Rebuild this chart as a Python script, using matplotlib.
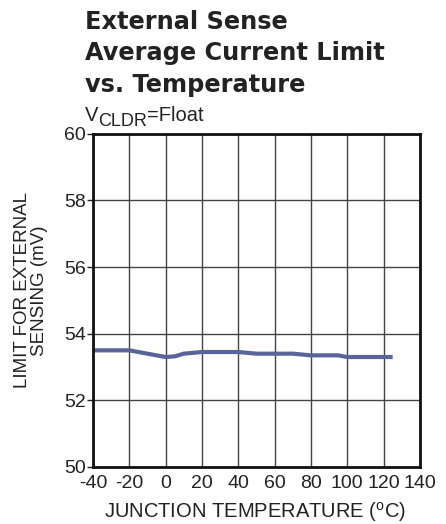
import matplotlib.pyplot as plt

plt.rcParams['font.family'] = ['Liberation Sans', 'DejaVu Sans']
plt.rcParams['axes.unicode_minus'] = False

# данные
temp = [-40, -20, -10, 0, 5, 10, 20, 40, 50, 70, 80, 95, 100, 125]
limit_mv = [53.5, 53.5, 53.4, 53.3, 53.32, 53.4, 53.45, 53.45, 53.4, 53.4, 53.35, 53.35, 53.3, 53.3]

x_ticks = list(range(-40, 141, 20))
y_ticks = list(range(50, 61, 2))

txt = '#222222'

fig = plt.figure(figsize=(4.46, 5.24), dpi=100)
ax = fig.add_axes([0.2085, 0.1088, 0.733, 0.636])

ax.plot(temp, limit_mv, color='#5b6499', lw=3, solid_capstyle='butt')

ax.set_xlim(-40, 140)
ax.set_ylim(50, 60)
ax.set_xticks(x_ticks)
ax.set_yticks(y_ticks)
ax.grid(True, color='#444444', lw=1)
ax.tick_params(labelsize=14, length=4, width=1, direction='out', pad=1, colors=txt)
ax.tick_params(axis='x', length=0, pad=6)
for s in ax.spines.values():
    s.set_linewidth(2)
    s.set_color('#111111')

ax.set_xlabel('JUNCTION TEMPERATURE ($^{\\mathregular{o}}$C)', fontsize=14.5, color=txt, va='baseline')
ax.xaxis.set_label_coords(0.495, -0.153)
ax.set_ylabel('LIMIT FOR EXTERNAL\nSENSING (mV)', fontsize=13.5, color=txt, linespacing=1.05, va='center')
ax.yaxis.set_label_coords(-0.19, 0.53)

# заголовок
x0 = 85 / 446
for s, base in [('External Sense', 29), ('Average Current Limit', 60), ('vs. Temperature', 92)]:
    fig.text(x0, 1 - base / 524, s, fontsize=17.3, fontweight='bold', va='baseline',
             color=txt, family='DejaVu Sans')

# подпись V_CLDR=Float по кусочкам
fig.canvas.draw()
r = fig.canvas.get_renderer()
t = fig.text(x0, 1 - 121 / 524, 'V', fontsize=14.5, va='baseline', color=txt)
xe = t.get_window_extent(r).x1 / fig.bbox.width
t = fig.text(xe, 1 - 126 / 524, 'CLDR', fontsize=13, va='baseline', color=txt)
xe = t.get_window_extent(r).x1 / fig.bbox.width
fig.text(xe, 1 - 121 / 524, '=Float', fontsize=14.5, va='baseline', color=txt)

fig.savefig('out.png', dpi=100)
